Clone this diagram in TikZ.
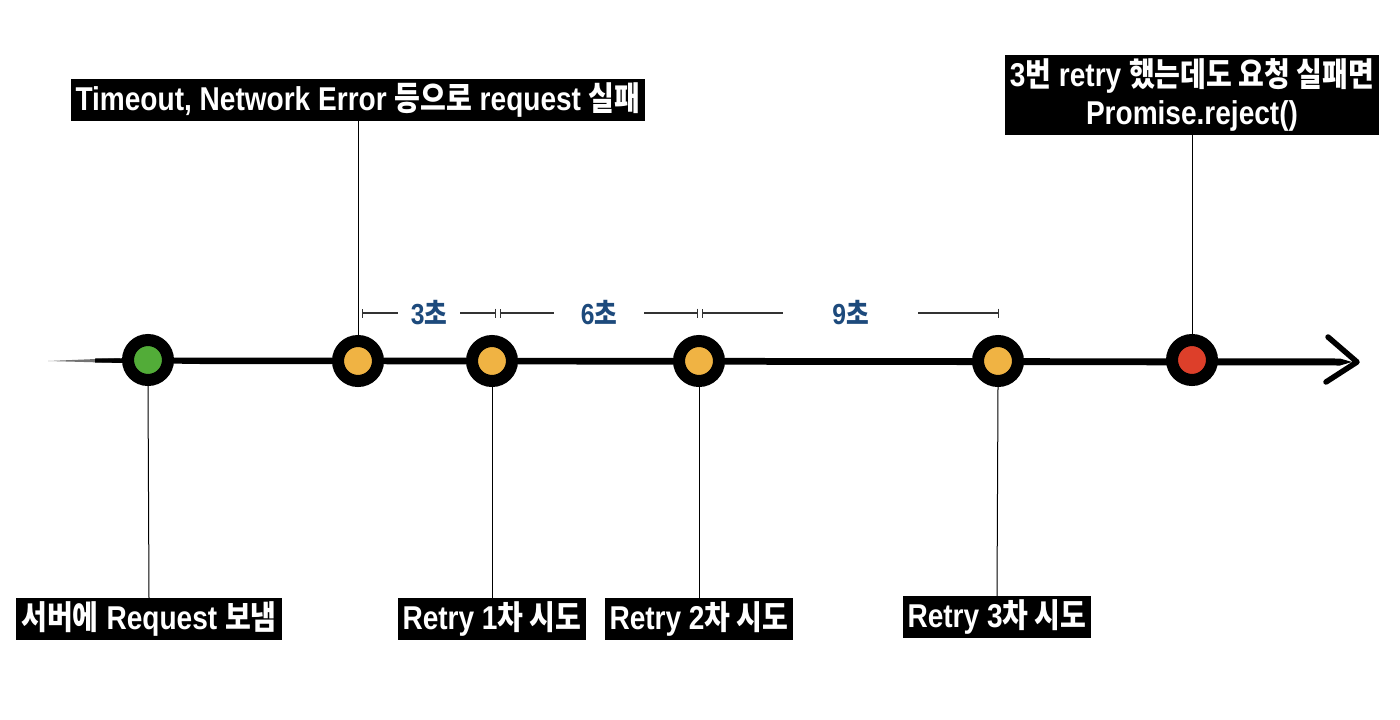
\documentclass[tikz,border=0pt]{standalone}
\usepackage{fontspec}
\setmainfont{Liberation Sans}[FakeStretch=0.85]
\newfontfamily\kr{Noto Sans CJK KR}[FakeStretch=0.85]
\usetikzlibrary{arrows.meta}
\newcommand{\K}[1]{{\kr #1}}
\definecolor{cgreen}{HTML}{52AC38}
\definecolor{corange}{HTML}{F0B343}
\definecolor{cred}{HTML}{DD3F2A}
\definecolor{secblue}{HTML}{1D4A7C}
\begin{document}
\begin{tikzpicture}[x=1pt,y=-1pt,
  lbl/.style={fill=black, text=white, font=\fontsize{33}{38}\selectfont\bfseries, inner xsep=5pt, inner ysep=3pt, minimum height=42pt},
  dot/.style={circle, draw=black, line width=12pt, minimum size=40pt, inner sep=0pt},
  lead/.style={draw=black, line width=1pt},
  dim/.style={draw=black!80, line width=1.3pt, {Bar[width=9pt]}-{Bar[width=9pt]}},
  sec/.style={text=secblue, font=\fontsize{29}{32}\selectfont\bfseries, fill=white, inner sep=0pt, minimum height=22pt}]
\fill[white] (0,0) rectangle (1400,720);
\useasboundingbox (0,0) rectangle (1400,720);
% timeline brush stroke
\coordinate (ts) at (48,361);
\coordinate (te) at (1352,362);
\fill[black!55] (ts) -- (120,358) -- (120,363) -- cycle;
\fill[black] (95,358.5) -- (200,357.5) -- (1340,358.5) -- (te) -- (1340,365.5) -- (200,364) -- (95,362.5) -- cycle;
\draw[line width=5.5pt, line cap=round, line join=round] (1328,337) -- (1357,362) -- (1326,382);
% dots
\node[dot, fill=cgreen] (c0) at (148,360) {};
\node[dot, fill=corange] (c1) at (358,361) {};
\node[dot, fill=corange] (c2) at (492,361) {};
\node[dot, fill=corange] (c3) at (699,361) {};
\node[dot, fill=corange] (c4) at (998,361) {};
\node[dot, fill=cred] (c5) at (1192,360) {};
% labels
\node[lbl] (l0) at (149,619) {\K{서버에} Request \K{보냄}};
\node[lbl] (l1) at (492,619) {Retry 1\K{차 시도}};
\node[lbl] (l2) at (699,619) {Retry 2\K{차 시도}};
\node[lbl] (l3) at (997,617) {Retry 3\K{차 시도}};
\node[lbl] (lt) at (358,100) {Timeout, Network Error \K{등으로} request \K{실패}};
\node[lbl, align=center, minimum height=80pt, inner ysep=2pt] (lr) at (1192,95) {3\K{번} retry \K{했는데도 요청 실패면}\\Promise.reject()};
% leads
\draw[lead] (l0.north) -- (c0.south);
\draw[lead] (l1.north) -- (c2.south);
\draw[lead] (l2.north) -- (c3.south);
\draw[lead] (l3.north) -- (c4.south);
\draw[lead] (lt.south) -- (c1.north);
\draw[lead] (lr.south) -- (c5.north);
% dimensions
\coordinate (a1) at (362,313); \coordinate (b1) at (496,313);
\coordinate (a2) at (500,313); \coordinate (b2) at (698,313);
\coordinate (a3) at (702,313); \coordinate (b3) at (999,313);
\draw[dim] (a1) -- (b1) node[sec, midway, minimum width=62pt] (s1) {3\K{초}};
\draw[dim] (a2) -- (b2) node[sec, midway, minimum width=90pt] (s2) {6\K{초}};
\draw[dim] (a3) -- (b3) node[sec, midway, minimum width=135pt] (s3) {9\K{초}};
\end{tikzpicture}
\end{document}
